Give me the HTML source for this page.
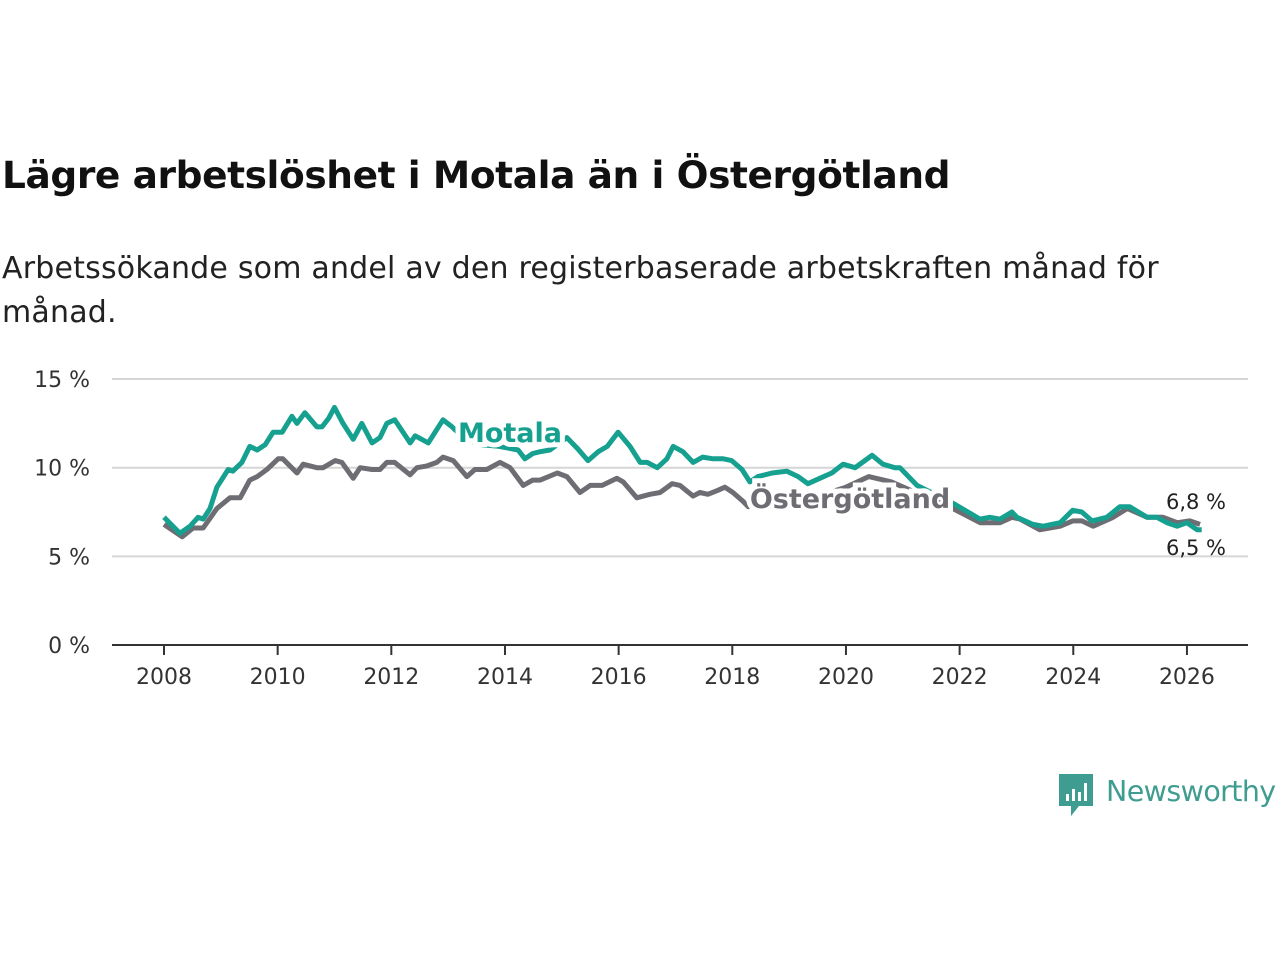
<!DOCTYPE html>
<html><head><meta charset="utf-8"><style>
body{margin:0;background:#fff;width:1280px;height:960px;overflow:hidden;font-family:"Liberation Sans","DejaVu Sans",sans-serif}
#title{position:absolute;left:2px;top:153px;font-size:37.5px;font-weight:bold;color:#111;font-family:"DejaVu Sans","Liberation Sans",sans-serif;letter-spacing:-0.4px}
#sub{position:absolute;left:2px;top:247px;font-size:30px;line-height:44px;color:#222;width:1200px;font-family:"DejaVu Sans","Liberation Sans",sans-serif;letter-spacing:0.2px}
</style></head><body>
<div id="title">Lägre arbetslöshet i Motala än i Östergötland</div>
<div id="sub">Arbetssökande som andel av den registerbaserade arbetskraften månad för månad.</div>
<svg id="chart" width="1280" height="960" style="position:absolute;left:0;top:0"></svg>
<script>
const yTicks=[0,5,10,15];
const xTicks=[2008,2010,2012,2014,2016,2018,2020,2022,2024,2026];
const motalaYears=[2008.0,2008.28,2008.46,2008.6,2008.69,2008.81,2008.93,2009.13,2009.21,2009.37,2009.51,2009.64,2009.78,2009.92,2010.08,2010.25,2010.34,2010.48,2010.69,2010.78,2010.9,2011.0,2011.15,2011.33,2011.48,2011.66,2011.8,2011.92,2012.06,2012.33,2012.42,2012.65,2012.77,2012.91,2013.07,2013.3,2013.6,2013.9,2014.23,2014.35,2014.49,2014.62,2014.79,2015.09,2015.27,2015.46,2015.64,2015.8,2015.99,2016.2,2016.38,2016.5,2016.68,2016.85,2016.96,2017.13,2017.31,2017.48,2017.66,2017.84,2017.99,2018.17,2018.31,2018.45,2018.7,2018.96,2019.16,2019.33,2019.54,2019.75,2019.95,2020.16,2020.46,2020.65,2020.86,2020.95,2021.25,2021.5,2021.7,2021.88,2022.36,2022.53,2022.71,2022.92,2023.01,2023.29,2023.47,2023.77,2023.99,2024.15,2024.33,2024.59,2024.82,2024.99,2025.3,2025.47,2025.65,2025.83,2026.0,2026.18,2026.26];
const motalaValues=[7.2,6.3,6.7,7.2,7.1,7.7,8.9,9.9,9.8,10.3,11.2,11.0,11.3,12.0,12.0,12.9,12.5,13.1,12.3,12.3,12.8,13.4,12.5,11.6,12.5,11.4,11.7,12.5,12.7,11.4,11.8,11.4,12.0,12.7,12.3,11.6,11.3,11.2,11.0,10.5,10.8,10.9,11.0,11.7,11.1,10.4,10.9,11.2,12.0,11.2,10.3,10.3,10.0,10.5,11.2,10.9,10.3,10.6,10.5,10.5,10.4,9.9,9.2,9.5,9.7,9.8,9.5,9.1,9.4,9.7,10.2,10.0,10.7,10.2,10.0,10.0,9.0,8.6,8.3,8.0,7.1,7.2,7.1,7.5,7.2,6.8,6.7,6.9,7.6,7.5,7.0,7.2,7.8,7.8,7.2,7.2,6.9,6.7,6.9,6.5,6.5];
const ostYears=[2008.0,2008.32,2008.51,2008.69,2008.93,2009.16,2009.34,2009.51,2009.64,2009.81,2010.01,2010.09,2010.34,2010.45,2010.69,2010.8,2011.01,2011.13,2011.33,2011.45,2011.66,2011.8,2011.92,2012.06,2012.33,2012.45,2012.63,2012.8,2012.91,2013.09,2013.33,2013.47,2013.68,2013.91,2014.09,2014.32,2014.49,2014.62,2014.92,2015.09,2015.32,2015.5,2015.71,2015.97,2016.08,2016.32,2016.55,2016.73,2016.94,2017.08,2017.31,2017.43,2017.57,2017.73,2017.87,2018.01,2018.19,2018.28,2018.5,2019.0,2019.5,2020.0,2020.4,2020.8,2021.3,2021.88,2022.36,2022.71,2022.92,2023.06,2023.41,2023.77,2023.99,2024.15,2024.35,2024.7,2024.95,2025.3,2025.58,2025.83,2026.05,2026.23];
const ostValues=[6.8,6.1,6.6,6.6,7.7,8.3,8.3,9.3,9.5,9.9,10.5,10.5,9.7,10.2,10.0,10.0,10.4,10.3,9.4,10.0,9.9,9.9,10.3,10.3,9.6,10.0,10.1,10.3,10.6,10.4,9.5,9.9,9.9,10.3,10.0,9.0,9.3,9.3,9.7,9.5,8.6,9.0,9.0,9.4,9.2,8.3,8.5,8.6,9.1,9.0,8.4,8.6,8.5,8.7,8.9,8.6,8.1,7.8,8.0,8.3,8.4,8.9,9.5,9.2,8.5,7.7,6.9,6.9,7.2,7.1,6.5,6.7,7.0,7.0,6.7,7.2,7.7,7.2,7.2,6.9,7.0,6.8];
const endLabels=["6,8 %","6,5 %"];
const NS="http://www.w3.org/2000/svg";
const svg=document.getElementById('chart');
const X=y=>164+(y-2008)*56.83;
const Y=v=>645-v*17.73;
function mk(t,a){const e=document.createElementNS(NS,t);for(const k in a)e.setAttribute(k,a[k]);svg.appendChild(e);return e;}
yTicks.forEach(t=>{
  if(t>0){const g=mk('line',{x1:112,x2:1248,y1:Y(t),y2:Y(t),stroke:'#d6d6d6','stroke-width':2});
  
  }
  const l=mk('text',{x:90,y:Y(t)+8,'text-anchor':'end','font-size':22,fill:'#333','font-family':'DejaVu Sans, Liberation Sans, sans-serif'});
  l.textContent=t+' %';
  
  
});
const ax=mk('line',{x1:112,x2:1248,y1:645,y2:645,stroke:'#333','stroke-width':2});


xTicks.forEach(t=>{
  const tk=mk('line',{x1:X(t),x2:X(t),y1:645,y2:655,stroke:'#333','stroke-width':2});
  
  
  const l=mk('text',{x:X(t),y:684,'text-anchor':'middle','font-size':22,fill:'#333','font-family':'DejaVu Sans, Liberation Sans, sans-serif'});
  l.textContent=t;
  
  
});
function path(xs,vs){return xs.map((x,i)=>(i?'L':'M')+X(x).toFixed(1)+','+Y(vs[i]).toFixed(1)).join('');}
const po=mk('path',{d:path(ostYears,ostValues),fill:'none',stroke:'#6e6d73','stroke-width':5,'stroke-linejoin':'round'});


const pm=mk('path',{d:path(motalaYears,motalaValues),fill:'none',stroke:'#16a08f','stroke-width':5,'stroke-linejoin':'round'});


const lm=mk('text',{x:510,y:442,'text-anchor':'middle','font-size':27,'font-weight':'bold',fill:'#16a08f',stroke:'#fff','stroke-width':10,'paint-order':'stroke','font-family':'DejaVu Sans, Liberation Sans, sans-serif'});
lm.textContent='Motala';


const lo=mk('text',{x:850,y:508,'text-anchor':'middle','font-size':27,'font-weight':'bold',fill:'#6e6d73',stroke:'#fff','stroke-width':10,'paint-order':'stroke','font-family':'DejaVu Sans, Liberation Sans, sans-serif'});
lo.textContent='Östergötland';


const e1=mk('text',{x:1196,y:509,'text-anchor':'middle','font-size':21,fill:'#222','font-family':'DejaVu Sans, Liberation Sans, sans-serif'});
e1.textContent=endLabels[0];


const e2=mk('text',{x:1196,y:555,'text-anchor':'middle','font-size':21,fill:'#222','font-family':'DejaVu Sans, Liberation Sans, sans-serif'});
e2.textContent=endLabels[1];


</script>
<div style="position:absolute;left:1059px;top:774px;display:flex;align-items:center">
<svg width="36" height="44"><path d="M0 0H34V32H20L12 42V32H0Z" fill="#3f9c90"/><rect x="7" y="20" width="3" height="7" fill="#fff"/><rect x="13" y="15" width="3" height="12" fill="#fff"/><rect x="19" y="18" width="3" height="9" fill="#fff"/><rect x="25" y="9" width="3" height="18" fill="#fff"/></svg>
<span style="font-size:28.5px;color:#3f9c90;margin-left:11px;margin-top:-10px;font-family:'DejaVu Sans','Liberation Sans',sans-serif;letter-spacing:-0.6px">Newsworthy</span>
</div>
</body></html>
